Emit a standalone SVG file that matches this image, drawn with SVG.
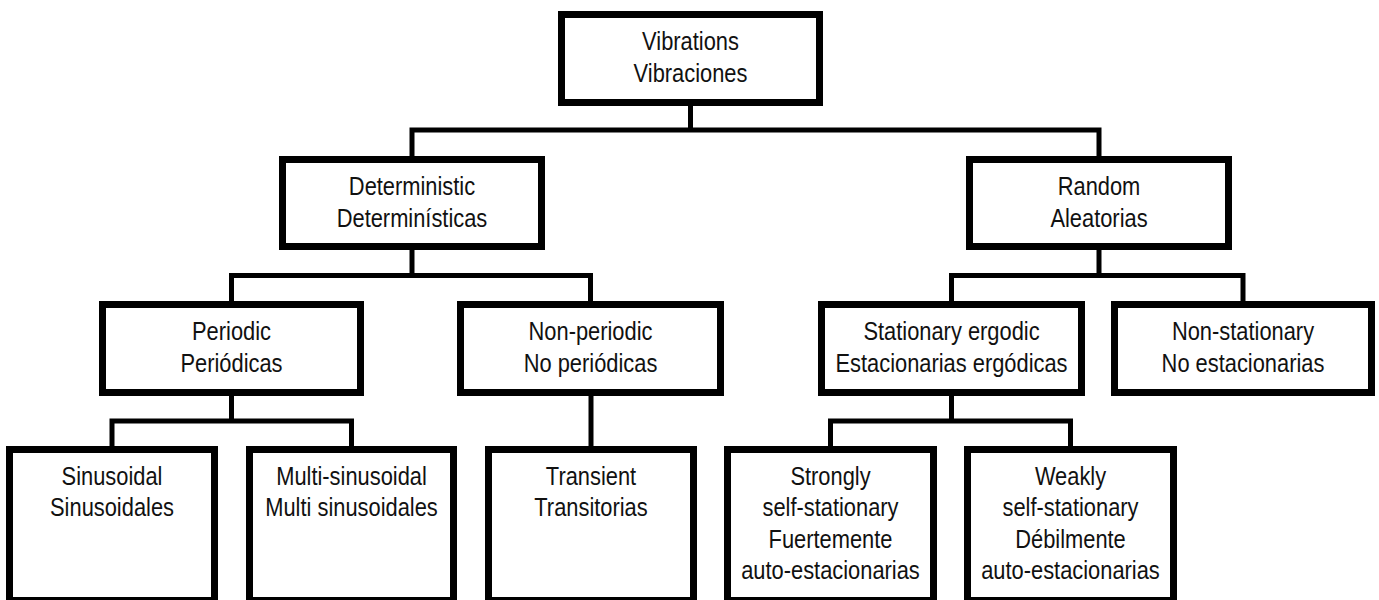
<svg xmlns="http://www.w3.org/2000/svg" width="1379" height="600" viewBox="0 0 1379 600">
<style>
.box{fill:#fff;stroke:#000;stroke-width:7;stroke-linejoin:miter}
.lbl{font-family:"Liberation Sans",Arial,sans-serif;font-size:25px;fill:#111;text-anchor:middle}
.con{fill:none;stroke:#000;stroke-width:5;stroke-linejoin:miter;stroke-linecap:butt}
</style>
<rect width="1379" height="600" fill="#fff"/>
<g id="connectors">
<path class="con" d="M690.5 106 V130"/>
<path class="con" d="M412 156 V130 H1099 V156"/>
<path class="con" d="M412 250 V275.5"/>
<path class="con" d="M231.5 301 V275.5 H590.5 V301"/>
<path class="con" d="M1099 250 V275.5"/>
<path class="con" d="M951.5 301 V275.5 H1243 V301"/>
<path class="con" d="M231.5 396 V421"/>
<path class="con" d="M112 446 V421 H351.5 V446"/>
<path class="con" d="M591 396 V446"/>
<path class="con" d="M951.5 396 V421"/>
<path class="con" d="M830.5 446 V421 H1070.5 V446"/>
</g>
<g id="vibrations">
<rect class="box" x="561.5" y="14.5" width="258" height="88"/>
<text class="lbl" transform="translate(690.5,0) scale(0.875,1)"><tspan x="0" y="50.5">Vibrations</tspan><tspan x="0" y="82">Vibraciones</tspan></text>
</g>
<g id="deterministic">
<rect class="box" x="282.5" y="159.5" width="259" height="87"/>
<text class="lbl" transform="translate(412,0) scale(0.875,1)"><tspan x="0" y="195.5">Deterministic</tspan><tspan x="0" y="227">Determinísticas</tspan></text>
</g>
<g id="random">
<rect class="box" x="969.5" y="159.5" width="259" height="87"/>
<text class="lbl" transform="translate(1099,0) scale(0.875,1)"><tspan x="0" y="195.5">Random</tspan><tspan x="0" y="227">Aleatorias</tspan></text>
</g>
<g id="periodic">
<rect class="box" x="102.5" y="304.5" width="258" height="88"/>
<text class="lbl" transform="translate(231.5,0) scale(0.875,1)"><tspan x="0" y="340.5">Periodic</tspan><tspan x="0" y="372">Periódicas</tspan></text>
</g>
<g id="nonperiodic">
<rect class="box" x="460.5" y="304.5" width="260" height="88"/>
<text class="lbl" transform="translate(590.5,0) scale(0.875,1)"><tspan x="0" y="340.5">Non-periodic</tspan><tspan x="0" y="372">No periódicas</tspan></text>
</g>
<g id="stationary">
<rect class="box" x="821.5" y="304.5" width="260" height="88"/>
<text class="lbl" transform="translate(951.5,0) scale(0.875,1)"><tspan x="0" y="340.5">Stationary ergodic</tspan><tspan x="0" y="372">Estacionarias ergódicas</tspan></text>
</g>
<g id="nonstationary">
<rect class="box" x="1114.5" y="304.5" width="257" height="88"/>
<text class="lbl" transform="translate(1243,0) scale(0.875,1)"><tspan x="0" y="340.5">Non-stationary</tspan><tspan x="0" y="372">No estacionarias</tspan></text>
</g>
<g id="sinusoidal">
<rect class="box" x="9.5" y="449.5" width="205" height="151"/>
<text class="lbl" transform="translate(112,0) scale(0.875,1)"><tspan x="0" y="485">Sinusoidal</tspan><tspan x="0" y="516.5">Sinusoidales</tspan></text>
</g>
<g id="multisinusoidal">
<rect class="box" x="249.5" y="449.5" width="204" height="151"/>
<text class="lbl" transform="translate(351.5,0) scale(0.875,1)"><tspan x="0" y="485">Multi-sinusoidal</tspan><tspan x="0" y="516.5">Multi sinusoidales</tspan></text>
</g>
<g id="transient">
<rect class="box" x="488.5" y="449.5" width="205" height="151"/>
<text class="lbl" transform="translate(591,0) scale(0.875,1)"><tspan x="0" y="485">Transient</tspan><tspan x="0" y="516.5">Transitorias</tspan></text>
</g>
<g id="strongly">
<rect class="box" x="727.5" y="449.5" width="206" height="151"/>
<text class="lbl" transform="translate(830.5,0) scale(0.875,1)"><tspan x="0" y="485">Strongly</tspan><tspan x="0" y="516.5">self-stationary</tspan><tspan x="0" y="548">Fuertemente</tspan><tspan x="0" y="579.5">auto-estacionarias</tspan></text>
</g>
<g id="weakly">
<rect class="box" x="967.5" y="449.5" width="206" height="151"/>
<text class="lbl" transform="translate(1070.5,0) scale(0.875,1)"><tspan x="0" y="485">Weakly</tspan><tspan x="0" y="516.5">self-stationary</tspan><tspan x="0" y="548">Débilmente</tspan><tspan x="0" y="579.5">auto-estacionarias</tspan></text>
</g>
</svg>
